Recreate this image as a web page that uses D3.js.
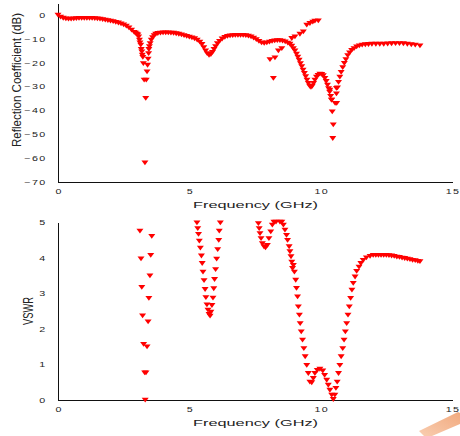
<!DOCTYPE html>
<html>
<head>
<meta charset="utf-8">
<script src="https://cdn.jsdelivr.net/npm/d3@7"></script>
<style>
  body { margin: 0; background: #fff; }
  svg { display: block; font-family: "Liberation Sans", Arial, sans-serif; }
  .axis path { stroke: #111; stroke-width: 1; shape-rendering: crispEdges; }
  .axis text { fill: #222; font-size: 6.7px; letter-spacing: 0.8px; }
  .title { fill: #222; }
  .marker { fill: #ff0000; }
</style>
</head>
<body>
<div id="chart"></div>
<script>
// tick values
var freqTicks = [0, 5, 10, 15];
var rcTicks = [-70, -60, -50, -40, -30, -20, -10, 0];
var vswrTicks = [0, 1, 2, 3, 4, 5];

// reflection coefficient (GHz, dB) - main sweep
var rcMain = [
  [0,0],[0.1,-0.8],[0.2,-1.3],[0.3,-1.6],[0.4,-1.7],[0.5,-1.7],[0.6,-1.6],[0.7,-1.5],
  [0.8,-1.4],[0.9,-1.4],[1.0,-1.4],[1.1,-1.4],[1.2,-1.4],[1.3,-1.4],[1.4,-1.5],[1.5,-1.6],
  [1.6,-1.7],[1.7,-1.9],[1.8,-2.1],[1.9,-2.3],[2.0,-2.5],[2.1,-2.7],[2.2,-3.0],[2.3,-3.3],
  [2.4,-3.7],[2.5,-4.1],[2.6,-4.6],[2.7,-5.3],[2.8,-6.3],[2.9,-7.2],[2.95,-7.6],[3.0,-8.0],
  [3.04,-8.3],[3.07,-9.1],[3.1,-10.5],[3.12,-11.6],[3.15,-12.6],[3.17,-14.4],[3.19,-15.4],
  [3.21,-16.8],[3.23,-17.7],[3.25,-20.3],[3.28,-27.2],[3.31,-61.9],[3.34,-34.9],
  [3.36,-27.2],[3.39,-23.8],[3.41,-21.0],[3.43,-18.4],[3.45,-16.1],[3.46,-14.4],[3.48,-13.2],
  [3.51,-11.9],[3.55,-10.5],[3.6,-9.4],[3.66,-8.6],[3.72,-8.0],
  [3.8,-7.7],[3.9,-7.5],[4.0,-7.4],[4.1,-7.4],[4.2,-7.4],[4.3,-7.5],[4.4,-7.6],[4.5,-7.8],
  [4.6,-8.0],[4.7,-8.3],[4.8,-8.6],[4.9,-8.9],[5.0,-9.2],[5.1,-9.5],[5.2,-9.9],[5.3,-10.5],
  [5.4,-11.3],[5.48,-12.3],[5.55,-13.6],[5.62,-15.0],[5.68,-16.1],[5.75,-16.8],[5.82,-16.5],
  [5.88,-15.6],[5.94,-14.4],[6.0,-13.2],[6.07,-12.0],[6.15,-11.0],[6.25,-10.0],[6.35,-9.3],
  [6.45,-8.9],[6.55,-8.7],[6.65,-8.6],[6.75,-8.5],[6.85,-8.5],[6.95,-8.5],[7.05,-8.5],
  [7.15,-8.6],[7.25,-8.8],[7.35,-9.1],[7.45,-9.6],[7.55,-10.3],[7.65,-11.0],[7.75,-11.6],
  [7.85,-11.8],[7.95,-11.6],[8.05,-11.3],[8.15,-11.0],[8.25,-10.8],[8.35,-10.7],[8.45,-10.7],
  [8.55,-10.9],[8.65,-11.2],[8.75,-11.7],[8.83,-12.2],[8.9,-13.0],[8.96,-14.0],[9.02,-15.0],
  [9.08,-16.3],[9.13,-17.6],[9.18,-18.9],[9.23,-20.3],[9.28,-21.6],[9.33,-23.0],[9.38,-24.4],
  [9.43,-25.8],[9.48,-27.2],[9.53,-28.6],[9.58,-29.8],[9.63,-30.3],[9.68,-29.8],[9.73,-28.6],
  [9.78,-27.2],[9.84,-26.0],[9.9,-25.2],[9.97,-24.7],[10.04,-24.8],[10.1,-25.4],[10.16,-26.5],
  [10.21,-27.8],[10.26,-29.3],[10.3,-30.8],[10.34,-32.3],[10.38,-34.0],[10.41,-35.6],
  [10.44,-40.5],[10.46,-51.7],[10.48,-46.0],[10.55,-37.0],[10.6,-33.0],[10.64,-30.5],
  [10.68,-28.2],[10.73,-26.0],[10.78,-24.0],[10.84,-22.0],[10.9,-20.2],[10.96,-18.6],
  [11.03,-17.0],[11.1,-15.8],[11.18,-14.8],[11.27,-14.0],[11.37,-13.3],[11.47,-12.9],
  [11.58,-12.6],[11.7,-12.4],[11.82,-12.3],[11.95,-12.2],[12.1,-12.2],[12.25,-12.2],
  [12.4,-12.2],[12.55,-12.1],[12.7,-12.0],[12.85,-11.9],[13.0,-11.9],[13.15,-12.0],
  [13.3,-12.2],[13.45,-12.4],[13.6,-12.6],[13.78,-12.9],
  [10.35,-31.4],[10.6,-30.7],[10.42,-35.6],[10.61,-37.0]
];

// reflection coefficient - stray branch near 8-10 GHz
var rcBranch = [
  [8.07,-18.6],[8.2,-26.5],[8.26,-17.9],[8.39,-15.0],[8.52,-14.0],[8.9,-9.8],[9.02,-9.1],
  [9.21,-8.0],[9.34,-7.0],[9.47,-4.2],[9.59,-3.5],[9.7,-2.9],[9.78,-2.5],[9.91,-2.4]
];

// VSWR (GHz, ratio)
var vswrPts = [
  [3.12,4.75],[3.16,3.97],[3.19,3.17],[3.22,2.37],[3.26,1.57],[3.3,0.77],[3.32,0.0],
  [3.35,0.77],[3.39,1.5],[3.43,2.2],[3.46,2.86],[3.5,3.49],[3.53,4.07],[3.57,4.6],
  [5.29,4.98],[5.32,4.82],[5.35,4.66],[5.38,4.47],[5.42,4.27],[5.46,4.05],[5.49,3.84],
  [5.52,3.6],[5.56,3.36],[5.6,3.11],[5.63,2.88],[5.67,2.68],[5.71,2.53],[5.75,2.41],
  [5.79,2.36],[5.82,2.47],[5.86,2.66],[5.9,2.87],[5.93,3.13],[5.96,3.39],[6.0,3.67],
  [6.04,3.96],[6.08,4.23],[6.12,4.49],[6.14,4.75],[6.18,4.98],
  [7.63,4.96],[7.66,4.82],[7.69,4.68],[7.73,4.54],[7.78,4.4],[7.84,4.31],[7.9,4.28],
  [7.97,4.35],[8.03,4.54],[8.1,4.73],[8.16,4.92],[8.22,5.0],[8.3,5.0],[8.45,5.0],[8.52,5.0],
  [8.58,4.92],[8.64,4.78],[8.7,4.63],[8.74,4.49],[8.8,4.31],[8.83,4.17],[8.87,4.03],
  [8.9,3.88],[8.93,3.7],[8.96,3.79],[9.0,3.6],[9.05,3.37],[9.08,3.14],[9.12,2.9],[9.15,2.62],
  [9.19,2.39],[9.22,2.15],[9.26,1.92],[9.31,1.69],[9.36,1.45],[9.41,1.22],[9.47,0.98],
  [9.53,0.75],[9.59,0.51],[9.66,0.49],[9.72,0.61],[9.78,0.75],[9.87,0.84],[9.97,0.87],
  [10.08,0.82],[10.15,0.7],[10.23,0.56],[10.29,0.42],[10.35,0.28],[10.42,0.14],[10.48,0.02],
  [10.54,0.14],[10.58,0.33],[10.63,0.51],[10.68,0.75],[10.73,0.98],[10.78,1.22],[10.84,1.45],
  [10.89,1.69],[10.94,1.92],[10.99,2.15],[11.04,2.39],[11.09,2.62],[11.14,2.86],[11.19,3.09],
  [11.24,3.28],[11.31,3.46],[11.37,3.62],[11.46,3.74],[11.53,3.84],[11.62,3.93],[11.74,4.0],
  [11.88,4.04],[12.0,4.07],[12.1,4.07],[12.2,4.07],[12.3,4.07],[12.4,4.07],[12.5,4.07],
  [12.6,4.06],[12.7,4.05],[12.8,4.04],[12.9,4.02],[13.0,4.01],[13.1,3.99],[13.2,3.98],
  [13.3,3.96],[13.4,3.95],[13.5,3.93],[13.6,3.92],[13.7,3.9],[13.78,3.89]
];

var width = 460;
var height = 436;
var markerPath = "M-3.5,-2.2L3.5,-2.2L0,2.6Z";
var xStretch = 1.6;

var svg = d3.select("#chart")
  .append("svg")
  .attr("width", width)
  .attr("height", height);

svg.append("rect").attr("width", width).attr("height", height).attr("fill", "#fff");

// little orange smudge in the bottom-right corner of the source scan
var grad = svg.append("defs").append("linearGradient")
  .attr("id", "smudge").attr("x1", "0").attr("y1", "1").attr("x2", "1").attr("y2", "0");
grad.append("stop").attr("offset", "0").attr("stop-color", "#f8c8a8");
grad.append("stop").attr("offset", "1").attr("stop-color", "#f0a070");
svg.append("path")
  .attr("d", "M419,431 L458,412 L460,413 L460,424 L432,436 L424,436 Z")
  .attr("fill", "url(#smudge)")
  .attr("opacity", 0.9);

var xScale = d3.scaleLinear().domain([0, 15]).range([58, 452]);

var renderPanel = function(config) {
  var yScale = d3.scaleLinear().domain(config.domain).range([config.bottom, config.top]);

  var g = svg.append("g");

  var yAxis = g.append("g")
    .attr("class", "axis")
    .attr("transform", "translate(58,0)")
    .call(
      d3.axisLeft(yScale)
        .tickValues(config.ticks)
        .tickFormat(d3.format("d"))
        .tickSize(0)
        .tickSizeOuter(0)
    );

  yAxis.selectAll("text")
    .attr("x", null).attr("dy", null)
    .attr("text-anchor", "end")
    .attr("transform", "translate(-11.5,2.4) scale(" + xStretch + ",1)");

  var xAxis = g.append("g")
    .attr("class", "axis")
    .attr("transform", "translate(0," + config.bottom + ")")
    .call(d3.axisBottom(xScale).tickValues(freqTicks).tickSize(0).tickSizeOuter(0));

  xAxis.selectAll("text")
    .attr("y", null).attr("dy", null)
    .attr("text-anchor", "middle")
    .attr("transform", "translate(0.5,12.2) scale(" + xStretch + ",1)");

  g.append("text")
    .attr("class", "title")
    .attr("x", 255.5)
    .attr("y", config.bottom + 26.3)
    .attr("text-anchor", "middle")
    .attr("font-size", 9.8)
    .attr("textLength", 125)
    .attr("lengthAdjust", "spacingAndGlyphs")
    .text("Frequency (GHz)");

  g.append("text")
    .attr("class", "title")
    .attr("transform", "translate(" + config.labelX + "," + config.labelY + ") rotate(-90)")
    .attr("text-anchor", "middle")
    .attr("font-size", config.labelSize)
    .attr("textLength", config.labelLength)
    .attr("lengthAdjust", "spacingAndGlyphs")
    .text(config.label);

  config.series.forEach(function(data) {
    g.append("g")
      .selectAll("path")
      .data(data)
      .enter()
      .append("path")
      .attr("class", "marker")
      .attr("d", markerPath)
      .attr("transform", d => "translate(" + xScale(d[0]) + "," + yScale(d[1]) + ")");
  });
};

renderPanel({
  domain: [-70, 5],
  top: 3,
  bottom: 182,
  ticks: rcTicks,
  label: "Reflection Coefficient (dB)",
  labelX: 21,
  labelY: 80,
  labelSize: 13.5,
  labelLength: 134,
  series: [rcMain, rcBranch]
});

renderPanel({
  domain: [0, 5],
  top: 222,
  bottom: 400,
  ticks: vswrTicks,
  label: "VSWR",
  labelX: 33,
  labelY: 311,
  labelSize: 15.5,
  labelLength: 28,
  series: [vswrPts]
});
</script>
</body>
</html>
